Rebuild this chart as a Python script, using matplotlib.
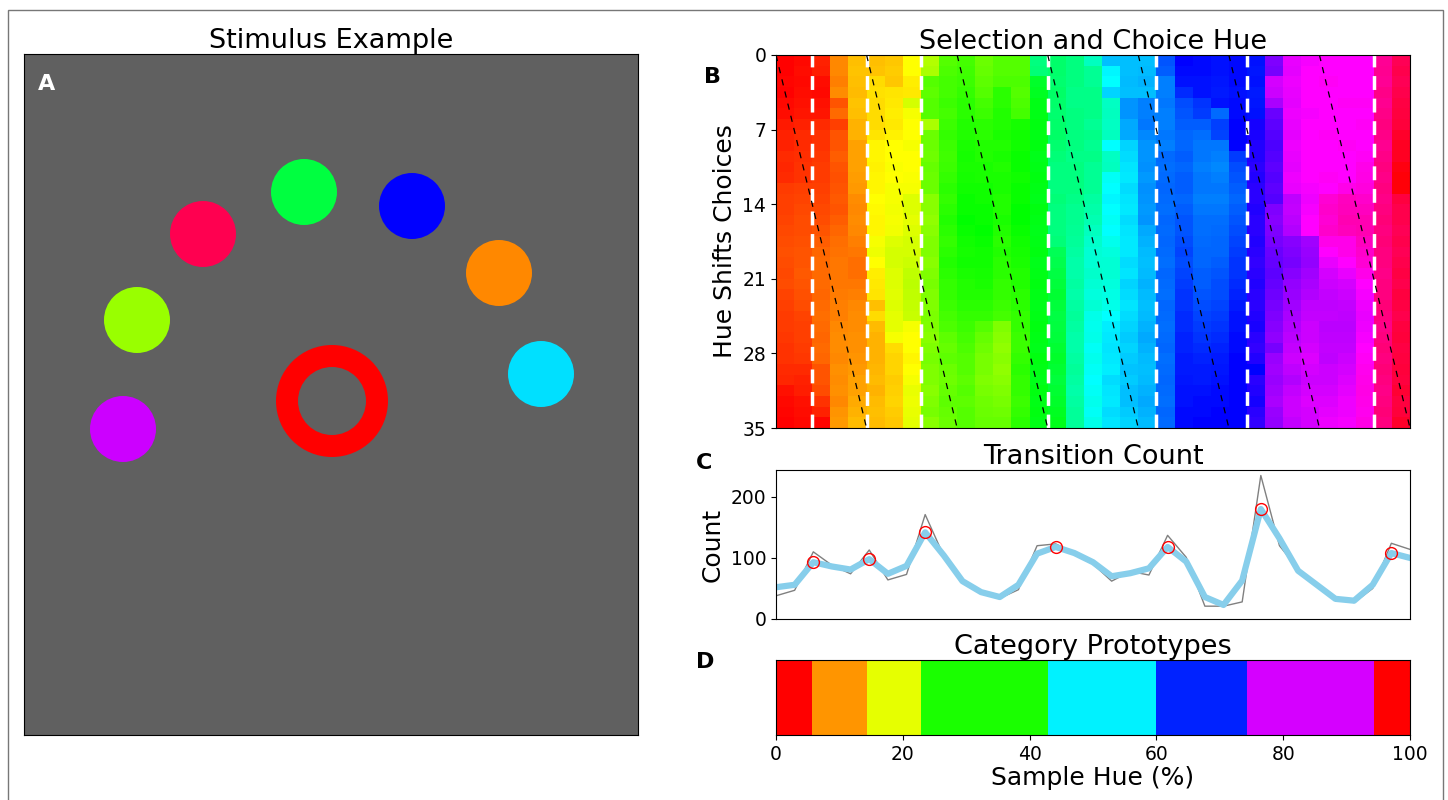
import numpy as np
import matplotlib
matplotlib.use("Agg")
import matplotlib.pyplot as plt
from matplotlib.colors import hsv_to_rgb
from matplotlib.patches import Circle, Rectangle

# ---- data ----
# Panel A: stimulus (pixel coords inside the 614x681 display)
stim_x = [179, 280, 388, 475, 517, 113, 99]
stim_y = [180, 138, 152, 219, 320, 266, 375]
stim_colors = ["#ff0050", "#00ff40", "#0000ff", "#ff8800", "#00e0ff", "#99ff00", "#cc00ff"]
stim_radius = 33
target_xy = (308, 347)
target_r_out = 56
target_r_in = 34
target_color = "#ff0000"

# Panel B: hue (degrees) per column, rows 0..34
hue_cols = [
    [0, 0, 1, 0, 2, 3, 6, 8, 8, 10, 9, 10, 14, 15, 15, 16, 17, 18, 19, 18, 17, 18, 16, 15, 14, 14, 13, 12, 12, 10, 9, 4, 2, 1, 0],
    [2, 3, 2, 3, 4, 5, 8, 10, 10, 11, 12, 12, 15, 16, 17, 18, 18, 19, 20, 20, 21, 20, 19, 18, 16, 15, 15, 14, 13, 10, 8, 7, 4, 3, 2],
    [8, 7, 3, 2, 4, 5, 10, 12, 12, 13, 14, 14, 15, 16, 17, 18, 20, 22, 24, 25, 25, 25, 24, 25, 26, 25, 24, 25, 24, 20, 20, 18, 12, 8, 1],
    [32, 32, 30, 33, 20, 25, 15, 20, 20, 22, 20, 19, 20, 21, 20, 22, 24, 26, 27, 28, 28, 28, 29, 30, 30, 32, 33, 33, 32, 34, 33, 34, 32, 35, 36],
    [45, 46, 45, 44, 46, 45, 42, 42, 38, 38, 38, 37, 36, 33, 32, 33, 32, 30, 28, 26, 26, 28, 30, 32, 33, 33, 34, 34, 35, 36, 38, 38, 40, 42, 44],
    [45, 46, 52, 53, 52, 52, 52, 54, 58, 58, 57, 58, 58, 60, 59, 58, 58, 62, 64, 60, 56, 55, 54, 45, 52, 44, 42, 42, 42, 43, 44, 42, 44, 45, 44],
    [47, 48, 47, 54, 55, 56, 55, 57, 60, 60, 61, 60, 62, 62, 63, 62, 63, 68, 70, 70, 68, 68, 67, 68, 66, 66, 62, 52, 50, 50, 48, 49, 50, 48, 47],
    [60, 60, 56, 55, 70, 62, 60, 60, 62, 60, 60, 61, 62, 68, 68, 66, 68, 70, 70, 72, 75, 76, 75, 74, 73, 62, 60, 60, 58, 60, 62, 65, 64, 65, 66],
    [78, 80, 100, 98, 100, 100, 80, 95, 95, 94, 96, 95, 95, 88, 88, 86, 88, 90, 90, 88, 90, 92, 90, 90, 91, 90, 88, 90, 92, 90, 90, 88, 90, 92, 88],
    [100, 102, 104, 104, 106, 104, 106, 108, 106, 105, 106, 108, 110, 108, 110, 112, 110, 108, 110, 112, 110, 108, 108, 106, 104, 102, 98, 96, 98, 95, 94, 96, 98, 96, 95],
    [104, 105, 106, 108, 110, 110, 112, 112, 114, 115, 114, 115, 116, 118, 118, 120, 118, 116, 115, 116, 114, 112, 112, 110, 108, 106, 104, 102, 100, 100, 98, 100, 98, 100, 100],
    [95, 96, 98, 100, 104, 106, 110, 110, 112, 112, 114, 114, 116, 116, 118, 118, 120, 118, 116, 116, 115, 114, 112, 110, 108, 100, 96, 94, 92, 92, 90, 92, 94, 95, 96],
    [100, 100, 102, 110, 110, 112, 112, 114, 112, 114, 112, 114, 114, 112, 112, 114, 112, 110, 112, 110, 110, 108, 108, 106, 104, 90, 88, 86, 88, 86, 88, 90, 92, 94, 96],
    [100, 100, 102, 100, 102, 104, 115, 116, 116, 118, 118, 116, 118, 118, 120, 120, 118, 116, 115, 114, 112, 112, 110, 110, 108, 108, 106, 106, 108, 110, 108, 108, 106, 108, 110],
    [150, 148, 130, 128, 125, 125, 124, 125, 124, 126, 125, 124, 125, 126, 124, 125, 126, 125, 124, 126, 125, 124, 125, 126, 125, 124, 125, 126, 124, 125, 126, 124, 125, 124, 125],
    [145, 145, 146, 144, 145, 146, 145, 144, 146, 148, 150, 150, 150, 148, 150, 150, 150, 148, 140, 138, 136, 134, 132, 134, 136, 135, 134, 132, 130, 132, 134, 132, 130, 128, 126],
    [150, 150, 150, 152, 152, 150, 150, 150, 150, 152, 150, 150, 150, 152, 154, 154, 155, 156, 158, 160, 160, 158, 160, 158, 156, 158, 160, 160, 158, 156, 158, 160, 158, 156, 156],
    [165, 155, 155, 152, 152, 152, 155, 152, 154, 152, 155, 155, 155, 158, 160, 162, 165, 168, 170, 170, 168, 170, 172, 170, 175, 176, 175, 178, 176, 178, 180, 178, 176, 178, 175],
    [195, 182, 180, 190, 166, 165, 166, 165, 180, 166, 165, 178, 180, 182, 180, 178, 180, 176, 172, 170, 170, 172, 174, 175, 180, 184, 185, 186, 185, 184, 188, 186, 185, 188, 186],
    [195, 195, 196, 195, 205, 205, 200, 200, 190, 188, 186, 185, 188, 186, 185, 188, 186, 185, 185, 188, 186, 190, 188, 186, 188, 190, 192, 190, 192, 194, 192, 195, 195, 192, 190],
    [195, 196, 198, 195, 210, 210, 212, 208, 205, 205, 206, 204, 206, 205, 204, 205, 200, 198, 196, 195, 196, 198, 196, 195, 196, 198, 200, 198, 196, 195, 196, 198, 200, 198, 196],
    [220, 218, 210, 210, 212, 210, 210, 212, 210, 215, 214, 215, 216, 215, 214, 216, 215, 216, 215, 214, 216, 215, 214, 216, 215, 214, 215, 216, 214, 215, 216, 215, 214, 216, 215],
    [240, 238, 236, 230, 222, 220, 218, 216, 216, 218, 216, 218, 218, 216, 218, 220, 220, 222, 224, 222, 224, 226, 228, 228, 230, 230, 232, 232, 234, 234, 235, 236, 236, 238, 238],
    [238, 238, 236, 236, 228, 226, 218, 214, 212, 212, 210, 212, 212, 210, 212, 214, 214, 215, 216, 216, 218, 218, 220, 222, 224, 226, 228, 230, 232, 234, 234, 236, 238, 238, 240],
    [236, 236, 235, 234, 236, 215, 225, 224, 212, 210, 208, 210, 212, 210, 212, 214, 215, 216, 216, 218, 220, 222, 222, 224, 226, 228, 230, 232, 234, 235, 236, 238, 238, 240, 240],
    [238, 238, 238, 236, 238, 238, 240, 240, 240, 226, 222, 220, 218, 216, 218, 220, 222, 224, 226, 228, 228, 230, 232, 234, 236, 236, 238, 238, 240, 240, 240, 240, 240, 240, 240],
    [236, 235, 236, 234, 235, 236, 245, 246, 248, 248, 250, 248, 250, 250, 248, 250, 250, 248, 250, 252, 250, 248, 250, 250, 248, 246, 250, 252, 248, 240, 250, 248, 245, 250, 252],
    [270, 268, 290, 288, 280, 265, 262, 260, 258, 260, 262, 260, 262, 260, 270, 272, 270, 268, 265, 264, 262, 264, 266, 268, 270, 272, 274, 268, 276, 278, 276, 278, 280, 276, 275],
    [295, 294, 296, 295, 294, 296, 295, 294, 296, 295, 294, 296, 295, 285, 286, 284, 282, 272, 270, 268, 272, 275, 276, 278, 280, 282, 284, 286, 288, 285, 282, 286, 288, 288, 286],
    [298, 300, 300, 300, 300, 298, 300, 300, 300, 300, 300, 300, 298, 296, 298, 300, 300, 278, 276, 275, 278, 280, 282, 285, 286, 288, 288, 290, 292, 290, 288, 290, 292, 290, 290],
    [300, 300, 302, 300, 300, 300, 300, 302, 300, 300, 300, 302, 300, 310, 312, 310, 312, 305, 300, 295, 290, 288, 286, 285, 286, 284, 285, 286, 285, 288, 288, 290, 292, 294, 296],
    [300, 300, 300, 300, 302, 300, 300, 300, 302, 300, 300, 300, 305, 315, 316, 318, 316, 305, 305, 300, 295, 290, 288, 286, 285, 284, 285, 286, 288, 290, 292, 294, 296, 296, 298],
    [300, 300, 300, 300, 302, 300, 302, 300, 300, 302, 305, 306, 308, 312, 315, 318, 318, 315, 312, 310, 305, 300, 298, 296, 295, 296, 298, 300, 302, 304, 305, 306, 305, 304, 306],
    [325, 326, 325, 328, 326, 328, 330, 328, 326, 328, 330, 328, 330, 328, 330, 332, 330, 332, 330, 330, 328, 330, 330, 332, 330, 328, 330, 332, 330, 332, 330, 328, 330, 332, 330],
    [340, 342, 340, 342, 344, 345, 346, 350, 352, 352, 356, 358, 358, 345, 342, 342, 340, 342, 340, 342, 344, 342, 345, 344, 342, 345, 346, 344, 345, 346, 345, 348, 345, 346, 350],
]
n_samples = 35
n_categories = 7
prototype_idx = [2, 5, 8, 15, 21, 26, 33]

# Panel C: transition counts
count_raw = [38, 47, 110, 88, 74, 113, 64, 73, 171, 103, 60, 44, 34, 48, 120, 123, 108, 90, 62,
             78, 72, 137, 101, 21, 21, 28, 235, 120, 82, 57, 34, 27, 50, 124, 114]
count_smooth = [52, 56, 93, 86, 81, 98, 74, 87, 142, 104, 62, 44, 36, 56, 107, 118, 108, 93, 70,
                75, 83, 118, 94, 36, 23, 63, 180, 132, 79, 56, 33, 30, 56, 108, 100]

# Panel D: category prototype segments (hue in degrees)
segment_hues = [0, 35, 66, 114, 183, 232, 290, 0]

TITLE_FS = 19.5
LABEL_FS = 18
TICK_FS = 13.5

# ---- figure ----
fig = plt.figure(figsize=(14.48, 8), dpi=100)
fig.patches.append(Rectangle((8 / 1448, -0.02), 1435 / 1448, 1.02 - 10 / 800,
                             transform=fig.transFigure, fill=False, edgecolor="#777777", lw=1))

# A
axA = fig.add_axes([24 / 1448, 65 / 800, 614 / 1448, 681 / 800])
axA.set_facecolor("#606060")
axA.set_xlim(0, 614)
axA.set_ylim(681, 0)
for x, y, c in zip(stim_x, stim_y, stim_colors):
    axA.add_patch(Circle((x, y), stim_radius, color=c, lw=0))
axA.add_patch(Circle(target_xy, target_r_out, color=target_color, lw=0))
axA.add_patch(Circle(target_xy, target_r_in, color="#606060", lw=0))
axA.set_xticks([])
axA.set_yticks([])
axA.set_title("Stimulus Example", fontsize=TITLE_FS, pad=2)
axA.text(0.036, 0.956, "A", transform=axA.transAxes, color="white", fontsize=16,
         fontweight="bold", ha="center", va="center")

# B
hue = np.array(hue_cols, dtype=float).T / 360.0
hsv = np.stack([hue, np.ones_like(hue), np.ones_like(hue)], axis=-1)
axB = fig.add_axes([776 / 1448, 372 / 800, 634 / 1448, 373 / 800])
axB.imshow(hsv_to_rgb(hsv), extent=(0, n_samples, n_samples, 0), aspect="auto",
           interpolation="nearest")
for p in prototype_idx:
    axB.axvline(p, color="white", ls=(0, (4, 2.5)), lw=2.5)
rows = np.arange(n_samples + 1)
step = n_samples / n_categories
for k in range(n_categories):
    axB.plot(k * step + rows / n_categories, rows, color="black", ls=(0, (5, 5)), lw=0.9)
axB.set_xlim(0, n_samples)
axB.set_ylim(n_samples, 0)
axB.set_xticks([])
axB.set_yticks(np.arange(0, n_samples + 1, 7))
axB.tick_params(labelsize=TICK_FS)
axB.set_ylabel("Hue Shifts Choices", fontsize=LABEL_FS)
axB.set_title("Selection and Choice Hue", fontsize=TITLE_FS, pad=0)

# C
idx = np.arange(n_samples)
axC = fig.add_axes([776 / 1448, 181 / 800, 634 / 1448, 149 / 800])
axC.plot(idx, count_raw, color="gray", lw=1)
axC.plot(idx, count_smooth, color="skyblue", lw=4.5)
axC.plot(prototype_idx, [count_smooth[i] for i in prototype_idx], "o", ms=8.5,
         mfc="none", mec="red", mew=1)
axC.set_xlim(0, n_samples - 1)
axC.set_ylim(0, 244)
axC.set_xticks([])
axC.set_yticks([0, 100, 200])
axC.tick_params(labelsize=TICK_FS)
axC.set_ylabel("Count", fontsize=LABEL_FS)
axC.set_title("Transition Count", fontsize=TITLE_FS, pad=0)

# D
edges = [0] + prototype_idx + [n_samples]
edges_pct = np.array(edges) / n_samples * 100
axD = fig.add_axes([776 / 1448, 65 / 800, 634 / 1448, 75 / 800])
for i, h in enumerate(segment_hues):
    axD.barh(0, edges_pct[i + 1] - edges_pct[i], left=edges_pct[i], height=1,
             color=hsv_to_rgb([h / 360, 1, 1]))
axD.set_xlim(0, 100)
axD.set_ylim(-0.5, 0.5)
axD.set_yticks([])
axD.set_xticks([0, 20, 40, 60, 80, 100])
axD.tick_params(labelsize=TICK_FS)
axD.set_xlabel("Sample Hue (%)", fontsize=LABEL_FS, labelpad=2)
axD.set_title("Category Prototypes", fontsize=TITLE_FS, pad=0)

for lab, x, y in [("B", 713, 77), ("C", 704, 463), ("D", 705, 662)]:
    fig.text(x / 1448, 1 - y / 800, lab, fontsize=16, fontweight="bold", ha="center", va="center")

fig.savefig("out.png", dpi=100)
